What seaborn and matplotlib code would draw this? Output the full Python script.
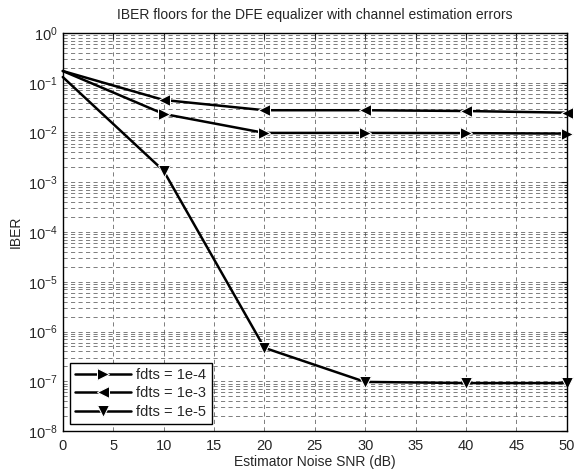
import numpy as np
import pandas as pd
import matplotlib
matplotlib.use("Agg")
import matplotlib.pyplot as plt
import seaborn as sns
from matplotlib.ticker import LogLocator, NullFormatter, MultipleLocator

snr = [0, 10, 20, 30, 40, 50]
labels = ['fdts = 1e-4', 'fdts = 1e-3', 'fdts = 1e-5']
iber_1e4 = [0.172, 0.0236, 0.0098, 0.0098, 0.0097, 0.0095]
iber_1e3 = [0.172, 0.045, 0.028, 0.028, 0.027, 0.025]
iber_1e5 = [0.13, 0.0017, 4.7e-7, 9.7e-8, 9.2e-8, 9.2e-8]

df = pd.DataFrame({
    'snr': snr * 3,
    'iber': iber_1e4 + iber_1e3 + iber_1e5,
    'fdts': [labels[0]] * 6 + [labels[1]] * 6 + [labels[2]] * 6,
})

sns.set_style("white")
plt.rcParams['font.family'] = ['Liberation Sans', 'DejaVu Sans']
plt.rcParams['font.size'] = 10
plt.rcParams['mathtext.fontset'] = 'custom'
plt.rcParams['mathtext.rm'] = 'Liberation Sans'
plt.rcParams['mathtext.it'] = 'Liberation Sans'
plt.rcParams['mathtext.default'] = 'regular'

fig = plt.figure(figsize=(5.76, 4.75), dpi=100)
ax = fig.add_axes([0.109, 0.0926, 0.875, 0.838])

ax = sns.lineplot(data=df, x='snr', y='iber', hue='fdts', style='fdts',
                  hue_order=labels, style_order=labels,
                  palette=['k', 'k', 'k'], markers=['>', '<', 'v'],
                  dashes=False, markersize=9, linewidth=1.8, ax=ax)

# no marker on the first point, markers at right edge not clipped
for line in ax.lines:
    if len(line.get_xdata()) == len(snr):
        line.set_markevery(list(range(1, len(snr))))
        line.set_clip_on(False)

ax.set_yscale('log')
ax.set_xlim(0, 50)
ax.set_ylim(1e-8, 1)
ax.xaxis.set_major_locator(MultipleLocator(5))
ax.yaxis.set_major_locator(LogLocator(base=10, numticks=20))
ax.yaxis.set_minor_locator(LogLocator(base=10, subs=np.arange(2, 10), numticks=20))
ax.yaxis.set_minor_formatter(NullFormatter())

grid_kw = dict(color='#444444', linestyle=(0, (5, 4)), linewidth=0.6, alpha=0.8)
ax.grid(True, which='major', axis='both', **grid_kw)
ax.grid(True, which='minor', axis='y', **grid_kw)
ax.set_axisbelow(True)

ax.tick_params(which='both', direction='in', top=True, right=True,
               length=4, labelsize=10.5, width=0.8)
ax.tick_params(which='minor', length=2)
ax.tick_params(axis='x', pad=6)
for s in ax.spines.values():
    s.set_color('k')
    s.set_linewidth(1.0)

ax.set_title('IBER floors for the DFE equalizer with channel estimation errors',
             fontsize=10, pad=10)
ax.set_xlabel('Estimator Noise SNR (dB)', fontsize=10, labelpad=1)
ax.set_ylabel('IBER', fontsize=10)

leg = ax.legend(loc='lower left', frameon=True, fancybox=False, handlelength=3.8,
                fontsize=10.5, borderaxespad=0.5, labelspacing=0.3,
                handletextpad=0.4, borderpad=0.35, numpoints=1)
leg.get_frame().set_edgecolor('k')
leg.get_frame().set_linewidth(1.0)
leg.get_frame().set_alpha(1)

fig.savefig('out.png', dpi=100)
